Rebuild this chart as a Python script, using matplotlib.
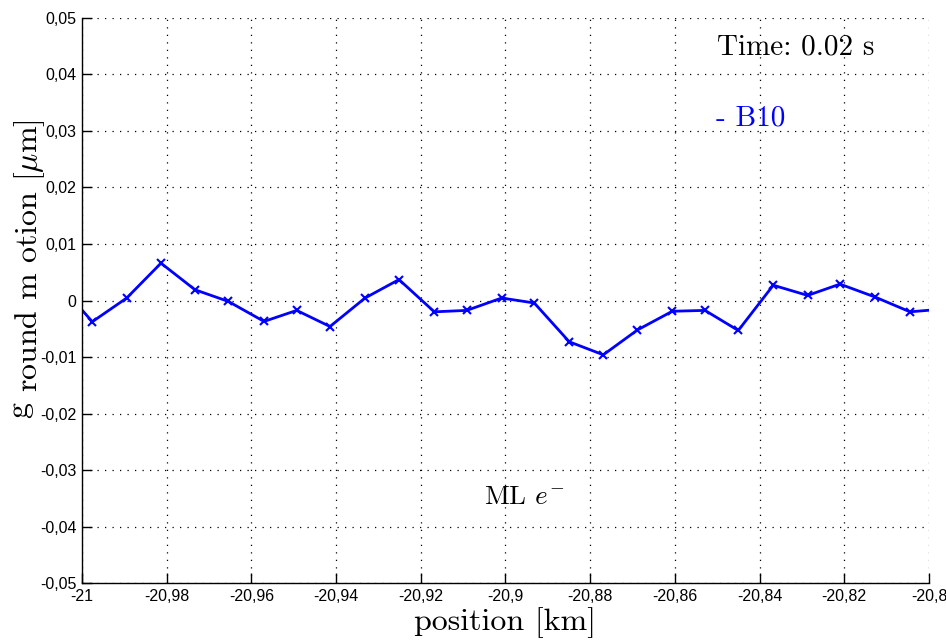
import matplotlib
matplotlib.use("Agg")
import matplotlib.pyplot as plt
from matplotlib.ticker import FuncFormatter

# ---- data ----
position_km = [-21.00562, -20.99757, -20.98945, -20.98135, -20.97332, -20.96545,
               -20.95702, -20.94930, -20.94144, -20.93317, -20.92515, -20.91681,
               -20.90916, -20.90090, -20.89320, -20.88494, -20.87690, -20.86883,
               -20.86061, -20.85289, -20.84503, -20.83677, -20.82865, -20.82102,
               -20.81275, -20.80449, -20.79646]
ground_motion_um = [0.0031, -0.00375, 0.00044, 0.0066, 0.0019, -0.00016,
                    -0.0037, -0.00175, -0.0046, 0.00044, 0.0037, -0.0020,
                    -0.00175, 0.00044, -0.00044, -0.0073, -0.0096, -0.0052,
                    -0.0019, -0.00175, -0.0053, 0.0027, 0.0009, 0.0029,
                    0.00062, -0.0020, -0.0015]
x_ticks = [-21.0, -20.98, -20.96, -20.94, -20.92, -20.9, -20.88, -20.86, -20.84, -20.82, -20.8]
y_ticks = [-0.05, -0.04, -0.03, -0.02, -0.01, 0.0, 0.01, 0.02, 0.03, 0.04, 0.05]
series_label = "- B10"
time_text = "Time: 0.02 s"
beam_text = r"ML $e^{-}$"

plt.rcParams['mathtext.fontset'] = 'cm'
plt.rcParams['axes.unicode_minus'] = False
serif = ['cmr10', 'DejaVu Serif']

fig = plt.figure(figsize=(9.46, 6.43), dpi=100)
ax = fig.add_axes([0.0867, 0.0928, 0.8953, 0.8797])

ax.plot(position_km, ground_motion_um, color='#0000ff', linewidth=2,
        marker='x', markersize=6, markeredgewidth=1.5)

ax.set_xlim(-21.0, -20.8)
ax.set_ylim(-0.05, 0.05)
ax.set_xticks(x_ticks)
ax.set_yticks(y_ticks)

def comma_fmt(v, pos):
    s = ('%.2f' % v).rstrip('0').rstrip('.')
    if s in ('-0', ''):
        s = '0'
    return s.replace('.', ',')

ax.xaxis.set_major_formatter(FuncFormatter(comma_fmt))
ax.yaxis.set_major_formatter(FuncFormatter(comma_fmt))

ax.grid(True, linestyle=(0, (1, 5)), color='black', linewidth=0.9)
ax.spines['top'].set_visible(False)
ax.spines['right'].set_visible(False)
for sp in ('left', 'bottom'):
    ax.spines[sp].set_linewidth(1.0)
ax.tick_params(direction='in', length=7, width=1, labelsize=11.5,
               top=False, right=False, pad=4)
for lab in ax.get_xticklabels() + ax.get_yticklabels():
    lab.set_fontfamily('Liberation Sans')

ax.set_xlabel('position [km]', fontsize=23, family=serif, labelpad=2)

# y label: "g" raised, rest lowered (as in reference)
fig.text(0.020, 0.362, 'g', rotation=90, fontsize=23, family=serif,
         ha='center', va='center')
fig.text(0.031, 0.602, r'round m otion [$\mu$m]', rotation=90,
         fontsize=23, family=serif, ha='center', va='center')

ax.text(-20.8501, 0.0447, time_text, fontsize=21, family=serif,
        ha='left', va='center', color='black')
ax.text(-20.8503, 0.0322, series_label, fontsize=21, family=serif,
        ha='left', va='center', color='#0000ff')
ax.text(-20.9051, -0.0348, beam_text, fontsize=19.5, family=serif,
        ha='left', va='center', color='black')

fig.savefig('out.png', dpi=100)
